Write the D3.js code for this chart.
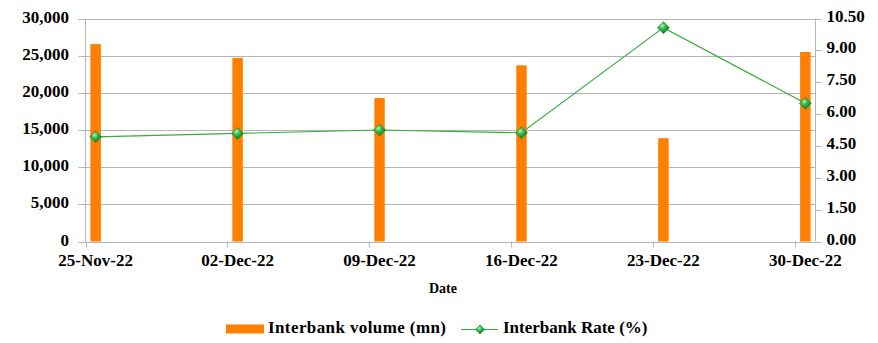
<!DOCTYPE html>
<html>
<head>
<meta charset="utf-8">
<script src="https://cdn.jsdelivr.net/npm/d3@7"></script>
<style>
  html, body { margin: 0; padding: 0; background: #fff; }
  svg { display: block; font-family: "Liberation Serif", "DejaVu Serif", serif; font-weight: bold; }
</style>
</head>
<body>
<svg id="chart" width="878" height="343"></svg>
<script>
// Weekly interbank market data
const dates = ["2022-11-25", "2022-12-02", "2022-12-09", "2022-12-16", "2022-12-23", "2022-12-30"];
const dateLabels = ["25-Nov-22", "02-Dec-22", "09-Dec-22", "16-Dec-22", "23-Dec-22", "30-Dec-22"];
const volume = [26550, 24700, 19300, 23700, 13900, 25500];   // Interbank volume (mn)
const rate = [4.93, 5.09, 5.25, 5.12, 10.07, 6.51];          // Interbank Rate (%)
const volumeTicks = [0, 5000, 10000, 15000, 20000, 25000, 30000];
const rateTicks = [0, 1.5, 3, 4.5, 6, 7.5, 9, 10.5];

const svg = d3.select("#chart");
const plot = { left: 85.5, right: 815.5, top: 18.5, bottom: 241.5 };
const DAY = 864e5;
const parse = d3.utcParse("%Y-%m-%d");
const dateVals = dates.map(parse);

// date axis running one day past the last observation
const x = d3.scaleUtc()
  .domain([dateVals[0], new Date(+dateVals[dateVals.length - 1] + DAY)])
  .range([plot.left, plot.right]);
const mid = d => new Date(+d + DAY / 2);   // marks sit in the middle of their day

const yL = d3.scaleLinear().domain([0, 30000]).range([plot.bottom, plot.top]);
const yR = d3.scaleLinear().domain([0, 10.5]).range([plot.bottom, plot.top]);

const grid = "#b4b4b4";

// horizontal gridlines with outside ticks on the left
svg.append("g").selectAll("line").data(volumeTicks).join("line")
  .attr("x1", plot.left - 7).attr("x2", plot.right)
  .attr("y1", d => Math.round(yL(d)) + 0.5).attr("y2", d => Math.round(yL(d)) + 0.5)
  .attr("stroke", grid).attr("stroke-width", 1);

// left volume labels
svg.append("g").selectAll("text").data(volumeTicks).join("text")
  .attr("x", 69).attr("y", d => yL(d) + 4)
  .attr("text-anchor", "end").attr("font-size", 17).attr("fill", "#000")
  .text(d => d3.format(",")(d));

// left and right axis lines
svg.append("line").attr("x1", plot.left).attr("x2", plot.left)
  .attr("y1", plot.top).attr("y2", plot.bottom).attr("stroke", grid);
svg.append("line").attr("x1", plot.right).attr("x2", plot.right)
  .attr("y1", plot.top).attr("y2", plot.bottom).attr("stroke", grid);

// right rate ticks and labels
svg.append("g").selectAll("line").data(rateTicks).join("line")
  .attr("x1", plot.right).attr("x2", plot.right + 6)
  .attr("y1", d => Math.round(yR(d)) + 0.5).attr("y2", d => Math.round(yR(d)) + 0.5)
  .attr("stroke", grid);
svg.append("g").selectAll("text").data(rateTicks).join("text")
  .attr("x", 826.5).attr("y", d => yR(d) + 3)
  .attr("font-size", 17).attr("fill", "#000")
  .text(d => d3.format(".2f")(d));

// x axis ticks (weekly) and labels
svg.append("g").selectAll("line").data(dateVals).join("line")
  .attr("x1", d => Math.round(x(d)) + 0.5).attr("x2", d => Math.round(x(d)) + 0.5)
  .attr("y1", plot.bottom).attr("y2", plot.bottom + 6)
  .attr("stroke", grid);
svg.append("g").selectAll("text").data(dateVals).join("text")
  .attr("x", d => x(mid(d))).attr("y", 265.5)
  .attr("text-anchor", "middle").attr("font-size", 17).attr("fill", "#000")
  .text((d, i) => dateLabels[i]);

// volume bars
const barW = 10.5;
svg.append("g").selectAll("rect").data(volume).join("rect")
  .attr("x", (d, i) => x(mid(dateVals[i])) - barW / 2)
  .attr("width", barW)
  .attr("y", d => yL(d))
  .attr("height", d => plot.bottom - yL(d))
  .attr("fill", "#ff8000");

// marker gradient
const defs = svg.append("defs");
const grad = defs.append("radialGradient").attr("id", "gem")
  .attr("cx", "40%").attr("cy", "35%").attr("r", "70%");
grad.append("stop").attr("offset", "0%").attr("stop-color", "#b8f0b8");
grad.append("stop").attr("offset", "40%").attr("stop-color", "#2fb84a");
grad.append("stop").attr("offset", "100%").attr("stop-color", "#0f6e22");

// rate line
const line = d3.line()
  .x((d, i) => x(mid(dateVals[i])))
  .y(d => yR(d));
svg.append("path").datum(rate)
  .attr("d", line).attr("fill", "none")
  .attr("stroke", "#3aaa3a").attr("stroke-width", 1.2);

const diamond = (cx, cy, r) => `M${cx},${cy - r}L${cx + r},${cy}L${cx},${cy + r}L${cx - r},${cy}Z`;
svg.append("g").selectAll("path").data(rate).join("path")
  .attr("d", (d, i) => diamond(x(mid(dateVals[i])), yR(d), 6))
  .attr("fill", "url(#gem)").attr("stroke", "#16802a").attr("stroke-width", 0.6);

// axis title
svg.append("text").attr("x", 443).attr("y", 293)
  .attr("text-anchor", "middle").attr("font-size", 14).attr("fill", "#000")
  .text("Date");

// legend
const lg = svg.append("g");
lg.append("rect").attr("x", 226).attr("y", 324.5).attr("width", 38).attr("height", 9).attr("fill", "#ff8000");
lg.append("text").attr("x", 268).attr("y", 333).attr("font-size", 17).attr("fill", "#000")
  .attr("letter-spacing", 0.4)
  .text("Interbank volume (mn)");
lg.append("line").attr("x1", 461).attr("x2", 498).attr("y1", 329.5).attr("y2", 329.5)
  .attr("stroke", "#3aaa3a").attr("stroke-width", 1.2);
lg.append("path").attr("d", diamond(480, 329.5, 4.5))
  .attr("fill", "url(#gem)").attr("stroke", "#16802a").attr("stroke-width", 0.6);
lg.append("text").attr("x", 503).attr("y", 333).attr("font-size", 17).attr("fill", "#000")
  .text("Interbank Rate (%)");
</script>
</body>
</html>
